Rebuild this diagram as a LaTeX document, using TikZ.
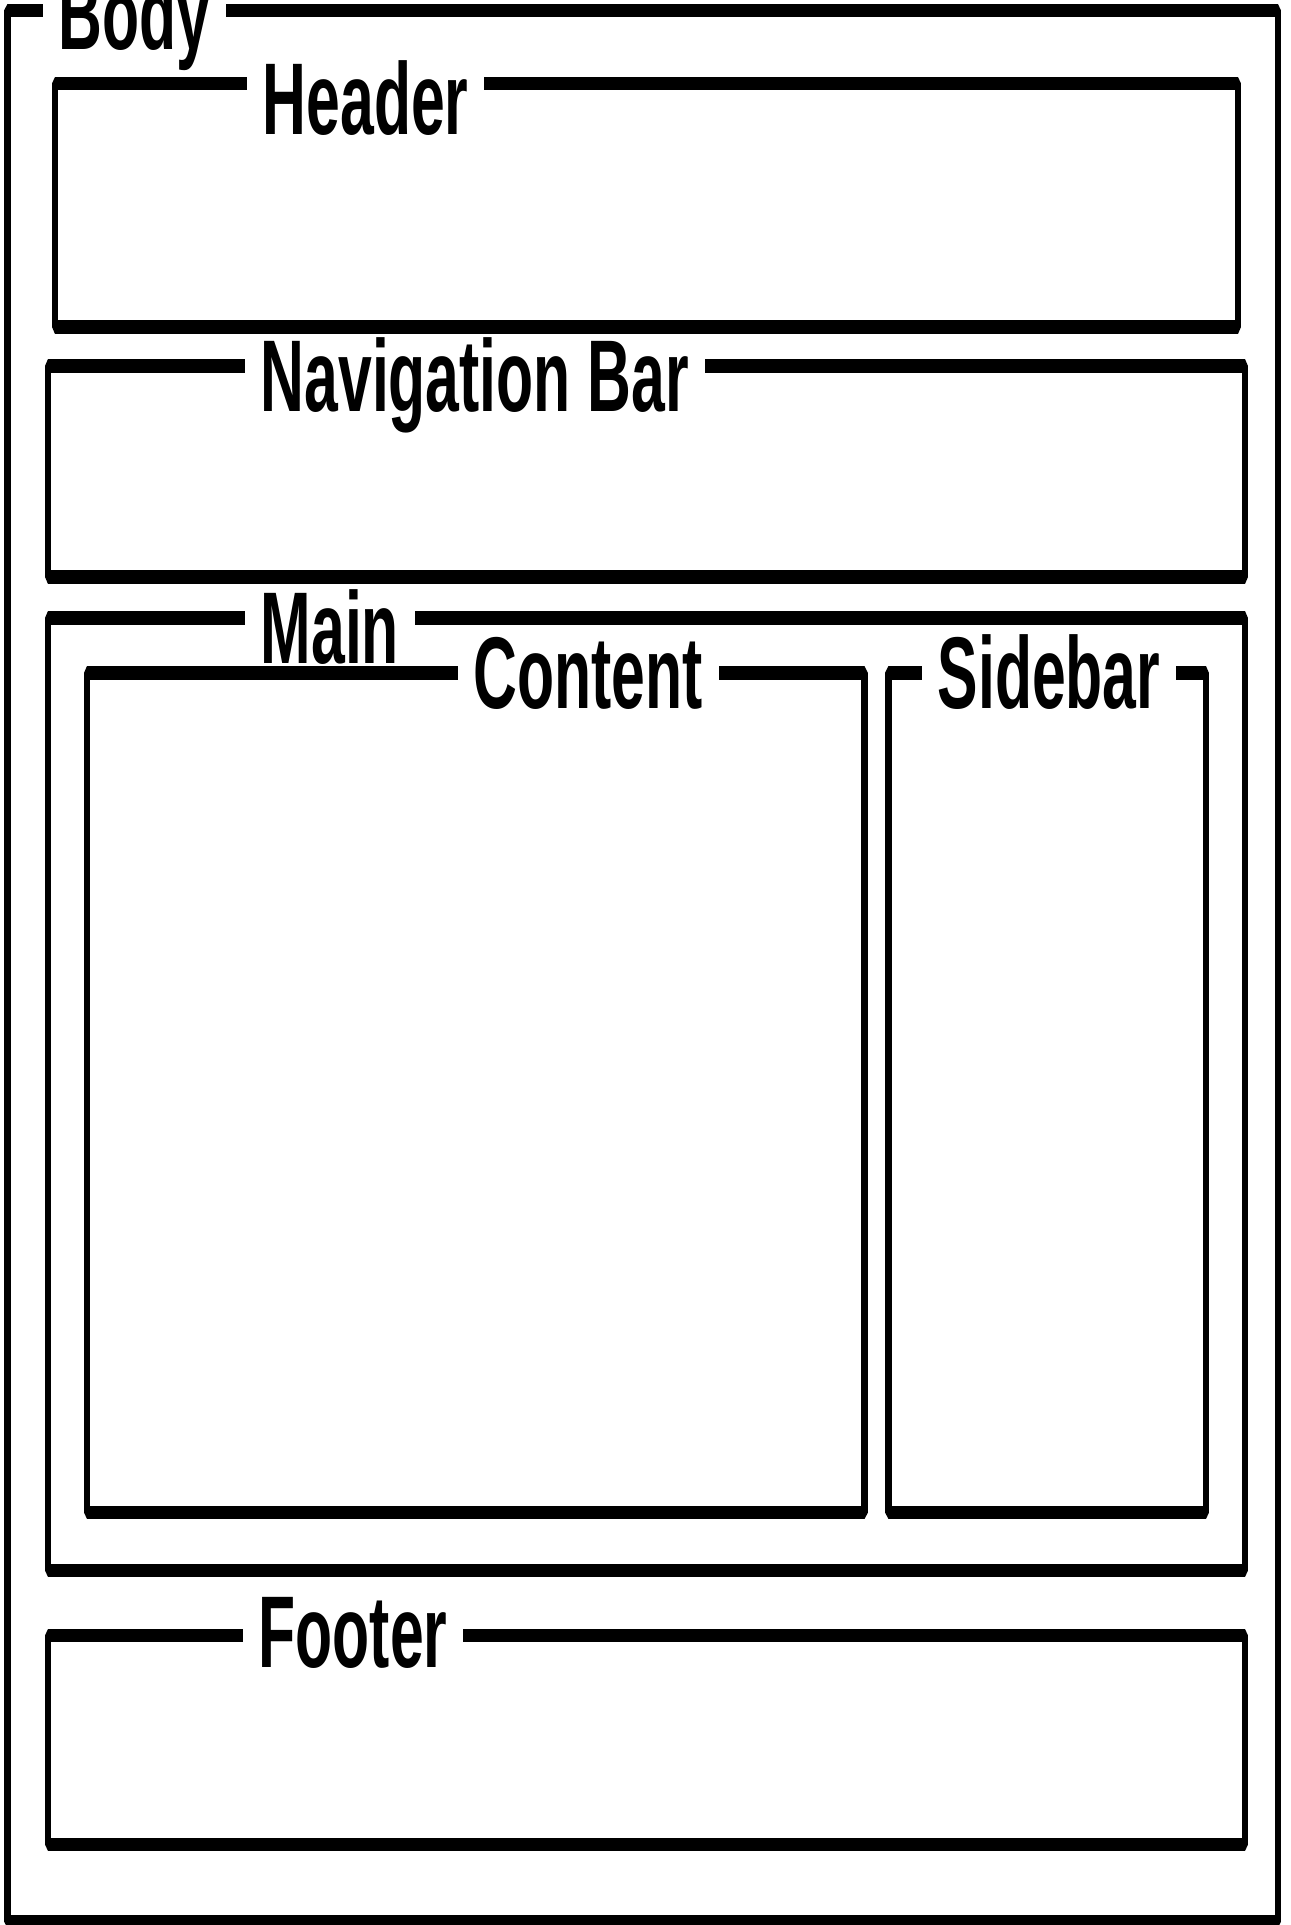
\documentclass[tikz,border=0pt]{standalone}
\usepackage{fontspec}
\setmainfont{Liberation Sans}
\begin{document}
\begin{tikzpicture}[x=0.01cm, y=-0.01cm,
    box/.style={draw, line width=3.7pt, line join=bevel},
    lbl/.style={fill=white, anchor=base west, inner xsep=0.16cm, inner ysep=0pt,
      font=\bfseries\fontsize{29pt}{29pt}\selectfont}]
  \useasboundingbox[fill=white] (0,0) rectangle (1290,1925);
  % boxes (squeezed canvas, so vertical strokes come out thinner)
  \begin{scope}[transform canvas={xscale=0.5}, x=0.02cm]
    \draw[box] (7.5,10.5) rectangle (1277,1921);
    \draw[box] (55,84) rectangle (1237,327);
    \draw[box] (48,366) rectangle (1244,577);
    \draw[box] (48,618) rectangle (1244,1570);
    \draw[box] (87,673) rectangle (864,1512);
    \draw[box] (888,673) rectangle (1205,1512);
    \draw[box] (48,1635) rectangle (1244,1844);
  \end{scope}
  % labels sit on the top edges
  \draw
    (42,50) node[lbl] (body) {\scalebox{0.595}[1]{Body}}
    (246,135) node[lbl] (header) {\scalebox{0.595}[1]{Header}}
    (244,412) node[lbl] (navbar) {\scalebox{0.595}[1]{Navigation Bar}}
    (244,663) node[lbl] (main) {\scalebox{0.595}[1]{Main}}
    (457,708) node[lbl] (content) {\scalebox{0.595}[1]{Content}}
    (921,708) node[lbl] (sidebar) {\scalebox{0.595}[1]{Sidebar}}
    (242,1667) node[lbl] (footer) {\scalebox{0.595}[1]{Footer}};
\end{tikzpicture}
\end{document}
